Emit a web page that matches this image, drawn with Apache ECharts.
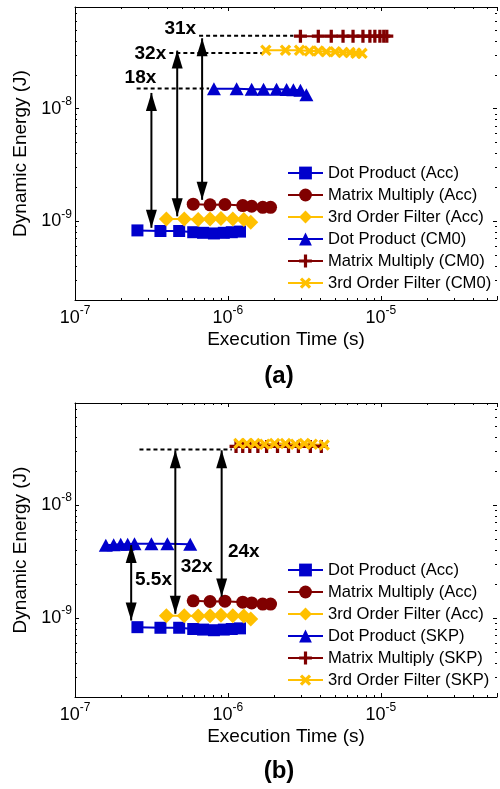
<!DOCTYPE html>
<html style="height: 100%">
<head>
<meta charset="utf-8">
</head>
<body style="height: 100%; margin: 0">
<div id="container" style="width: 500px; height: 789px"></div>
<script src="https://cdn.jsdelivr.net/npm/echarts@6/dist/echarts.min.js"></script>
<script type="text/javascript">
// execution time (s) and dynamic energy (J)
var dotAccX = [2.56e-7, 3.62e-7, 4.8e-7, 5.93e-7, 6.88e-7, 8.1e-7, 9.4e-7, 1.06e-6, 1.2e-6];
var dotAccY = [8.3e-10, 8.2e-10, 8.2e-10, 8.0e-10, 7.9e-10, 7.8e-10, 7.9e-10, 8.0e-10, 8.1e-10];
var mmAccX = [5.93e-7, 7.64e-7, 9.56e-7, 1.25e-6, 1.43e-6, 1.69e-6, 1.9e-6];
var mmAccY = [1.42e-9, 1.40e-9, 1.41e-9, 1.38e-9, 1.36e-9, 1.33e-9, 1.33e-9];
var filtAccX = [3.96e-7, 5.18e-7, 6.39e-7, 7.64e-7, 9.0e-7, 1.077e-6, 1.27e-6, 1.41e-6];
var filtAccY = [1.05e-9, 1.05e-9, 1.04e-9, 1.05e-9, 1.06e-9, 1.05e-9, 1.04e-9, 0.98e-9];

var dotCm0X = [8.1e-7, 1.14e-6, 1.43e-6, 1.71e-6, 2.08e-6, 2.42e-6, 2.68e-6, 2.98e-6, 3.26e-6];
var dotCm0Y = [1.50e-8, 1.50e-8, 1.49e-8, 1.49e-8, 1.49e-8, 1.48e-8, 1.47e-8, 1.46e-8, 1.33e-8];
var mmCm0X = [2.98e-6, 3.9e-6, 4.74e-6, 5.66e-6, 6.58e-6, 7.64e-6, 8.48e-6, 9.14e-6, 9.86e-6, 1.045e-5, 1.094e-5];
var mmCm0Y = [4.4e-8, 4.4e-8, 4.4e-8, 4.4e-8, 4.4e-8, 4.4e-8, 4.4e-8, 4.4e-8, 4.4e-8, 4.4e-8, 4.4e-8];
var filtCm0X = [1.77e-6, 2.38e-6, 2.94e-6, 3.41e-6, 3.9e-6, 4.4e-6, 5.03e-6, 5.66e-6, 6.29e-6, 6.88e-6, 7.53e-6];
var filtCm0Y = [3.3e-8, 3.3e-8, 3.3e-8, 3.25e-8, 3.25e-8, 3.2e-8, 3.2e-8, 3.15e-8, 3.15e-8, 3.1e-8, 3.1e-8];

var dotSkpX = [1.59e-7, 1.79e-7, 1.99e-7, 2.21e-7, 2.45e-7, 3.16e-7, 4.02e-7, 5.67e-7];
var dotSkpY = [4.4e-9, 4.45e-9, 4.5e-9, 4.5e-9, 4.55e-9, 4.55e-9, 4.55e-9, 4.5e-9];
var mmSkpX = [1.13e-6, 1.25e-6, 1.39e-6, 1.57e-6, 1.79e-6, 2.11e-6, 2.49e-6, 2.89e-6, 3.46e-6, 4.08e-6];
var mmSkpY = [3.3e-8, 3.3e-8, 3.3e-8, 3.3e-8, 3.3e-8, 3.3e-8, 3.3e-8, 3.3e-8, 3.3e-8, 3.3e-8];
var filtSkpX = [1.18e-6, 1.33e-6, 1.5e-6, 1.74e-6, 2.02e-6, 2.38e-6, 2.77e-6, 3.16e-6, 3.56e-6, 4.26e-6];
var filtSkpY = [3.5e-8, 3.5e-8, 3.5e-8, 3.45e-8, 3.5e-8, 3.5e-8, 3.45e-8, 3.5e-8, 3.45e-8, 3.4e-8];

// annotations: arrows [x, yLow, yHigh], dashed lines [x0, x1, y], labels [x, y, text]
var arrowsA = [[3.16e-7, 8.75e-10, 1.38e-8], [4.66e-7, 1.107e-9, 3.28e-8], [6.78e-7, 1.55e-9, 4.22e-8]];
var dashA = [[6.48e-7, 2.68e-6, 4.45e-8], [4.14e-7, 1.66e-6, 3.13e-8], [2.53e-7, 7.53e-7, 1.51e-8]];
var labelsA = [[4.88e-7, 5.15e-8, '31x'], [3.11e-7, 3.09e-8, '32x'], [2.68e-7, 1.88e-8, '18x']];
var arrowsB = [[2.33e-7, 9.5e-10, 4.42e-9], [4.53e-7, 1.09e-9, 3.05e-8], [9.1e-7, 1.55e-9, 3.05e-8]];
var dashB = [[2.64e-7, 1.06e-6, 3.1e-8]];
var labelsB = [[3.26e-7, 2.16e-9, '5.5x'], [6.24e-7, 2.84e-9, '32x'], [1.27e-6, 3.85e-9, '24x']];

var namesA = ['Dot Product (Acc)', 'Matrix Multiply (Acc)', '3rd Order Filter (Acc)',
              'Dot Product (CM0)', 'Matrix Multiply (CM0)', '3rd Order Filter (CM0)'];
var namesB = ['Dot Product (Acc)', 'Matrix Multiply (Acc)', '3rd Order Filter (Acc)',
              'Dot Product (SKP)', 'Matrix Multiply (SKP)', '3rd Order Filter (SKP)'];

var FONT = 'Liberation Sans, Arial, sans-serif';
var BLUE = '#0000cc', RED = '#800000', GOLD = '#ffc000';
var PLUS = 'path://M3,0h2v3h3v2h-3v3h-2v-3h-3v-2h3z';

function pairs(xs, ys) {
    return xs.map(function (x, i) { return [x, ys[i]]; });
}

function powLabel(v) {
    var e = Math.log10(v);
    if (Math.abs(e - Math.round(e)) > 1e-6) return '';
    return '{b|10}{s|' + Math.round(e) + '}';
}

var labelRich = {
    b: { fontSize: 18, lineHeight: 26, fontFamily: FONT, color: '#000' },
    s: { fontSize: 12, lineHeight: 12, verticalAlign: 'top', fontFamily: FONT, color: '#000' }
};

function axisBase(grid, pos, isX, labels) {
    var ax = {
        type: 'log',
        logBase: 10,
        gridIndex: grid,
        position: pos,
        min: isX ? 1e-7 : 2e-10,
        max: isX ? 5.75e-5 : 8e-8,
        axisLine: { show: true, onZero: false, lineStyle: { color: '#000', width: 1 } },
        axisTick: { show: true, inside: true, length: 4, lineStyle: { color: '#000' } },
        minorTick: { show: true, splitNumber: 9, length: 2, lineStyle: { color: '#000' } },
        splitLine: { show: false },
        minorSplitLine: { show: false },
        axisLabel: {
            show: labels,
            margin: isX ? 5 : 3,
            formatter: powLabel,
            rich: labelRich
        }
    };
    if (labels) {
        ax.name = isX ? 'Execution Time (s)' : 'Dynamic Energy (J)';
        ax.nameLocation = 'middle';
        ax.nameGap = isX ? 30 : 45;
        ax.nameTextStyle = { fontSize: 19, fontFamily: FONT, color: '#000' };
    }
    if (pos === 'right') ax.axisLine.show = false;
    return ax;
}

function dataSeries(name, g, xs, ys, symbol, size, color, rot) {
    return {
        name: name, type: 'line', xAxisIndex: 2 * g, yAxisIndex: 2 * g,
        data: pairs(xs, ys),
        symbol: symbol, symbolSize: size, symbolRotate: rot || 0, showAllSymbol: true,
        lineStyle: { color: color, width: 2 },
        itemStyle: { color: color }
    };
}

function arrowSeries(a, g) {
    return {
        type: 'line', xAxisIndex: 2 * g, yAxisIndex: 2 * g, silent: true, z: 5,
        symbol: 'triangle', symbolSize: [11, 18], showAllSymbol: true,
        lineStyle: { color: '#000', width: 2 }, itemStyle: { color: '#000' },
        data: [
            { value: [a[0], a[1]], symbolRotate: 180, symbolOffset: [0, -9] },
            { value: [a[0], a[2]], symbolOffset: [0, 9] }
        ]
    };
}

function dashSeries(d, g) {
    return {
        type: 'line', xAxisIndex: 2 * g, yAxisIndex: 2 * g, silent: true, z: 4,
        symbol: 'none',
        lineStyle: { color: '#000', width: 2, type: [4, 3] },
        data: [[d[0], d[2]], [d[1], d[2]]]
    };
}

function labelSeries(list, g) {
    return {
        type: 'scatter', xAxisIndex: 2 * g, yAxisIndex: 2 * g, silent: true, z: 6,
        symbolSize: 1, itemStyle: { color: '#fff', opacity: 0 },
        label: {
            show: true, position: 'inside', formatter: '{b}', opacity: 1,
            fontSize: 19, fontWeight: 'bold', fontFamily: FONT, color: '#000',
            textBorderWidth: 0
        },
        data: list.map(function (l) { return { name: l[2], value: [l[0], l[1]] }; })
    };
}

var series = [
    dataSeries(namesA[0], 0, dotAccX, dotAccY, 'rect', 12, BLUE),
    dataSeries(namesA[1], 0, mmAccX, mmAccY, 'circle', 13, RED),
    dataSeries(namesA[2], 0, filtAccX, filtAccY, 'diamond', 15, GOLD),
    dataSeries(namesA[3], 0, dotCm0X, dotCm0Y, 'triangle', [14, 13], BLUE),
    dataSeries(namesA[4], 0, mmCm0X, mmCm0Y, PLUS, 13, RED),
    dataSeries(namesA[5], 0, filtCm0X, filtCm0Y, PLUS, 13, GOLD, 45),
    dataSeries(namesB[0], 1, dotAccX, dotAccY, 'rect', 12, BLUE),
    dataSeries(namesB[1], 1, mmAccX, mmAccY, 'circle', 13, RED),
    dataSeries(namesB[2], 1, filtAccX, filtAccY, 'diamond', 15, GOLD),
    dataSeries(namesB[3], 1, dotSkpX, dotSkpY, 'triangle', [14, 13], BLUE),
    dataSeries(namesB[4], 1, mmSkpX, mmSkpY, PLUS, 13, RED),
    dataSeries(namesB[5], 1, filtSkpX, filtSkpY, PLUS, 13, GOLD, 45)
];
dashA.forEach(function (d) { series.push(dashSeries(d, 0)); });
dashB.forEach(function (d) { series.push(dashSeries(d, 1)); });
arrowsA.forEach(function (a) { series.push(arrowSeries(a, 0)); });
arrowsB.forEach(function (a) { series.push(arrowSeries(a, 1)); });
series.push(labelSeries(labelsA, 0));
series.push(labelSeries(labelsB, 1));

function legendAt(top, names) {
    return {
        data: names, orient: 'vertical', left: 287, top: top, padding: 0,
        itemWidth: 35, itemHeight: 16, itemGap: 4, selectedMode: false,
        textStyle: { fontSize: 16.6, lineHeight: 18, fontFamily: FONT, color: '#000' }
    };
}

var myChart = echarts.init(document.getElementById('container'));
var option = {
    animation: false,
    grid: [
        { left: 75, top: 7, right: 0, height: 293 },
        { left: 75, top: 403, right: 0, height: 294 }
    ],
    xAxis: [
        axisBase(0, 'bottom', true, true), axisBase(0, 'top', true, false),
        axisBase(1, 'bottom', true, true), axisBase(1, 'top', true, false)
    ],
    yAxis: [
        axisBase(0, 'left', false, true), axisBase(0, 'right', false, false),
        axisBase(1, 'left', false, true), axisBase(1, 'right', false, false)
    ],
    legend: [legendAt(164, namesA), legendAt(561, namesB)],
    graphic: [
        { type: 'text', x: 279, y: 376, style: { text: '(a)', font: 'bold 24px ' + FONT, fill: '#000', align: 'center', verticalAlign: 'middle' } },
        { type: 'text', x: 279, y: 771, style: { text: '(b)', font: 'bold 24px ' + FONT, fill: '#000', align: 'center', verticalAlign: 'middle' } }
    ],
    series: series
};
myChart.setOption(option);
</script>
</body>
</html>
